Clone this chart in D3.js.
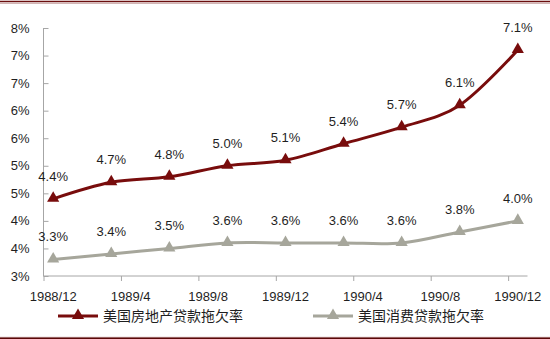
<!DOCTYPE html>
<html>
<head>
<meta charset="utf-8">
<script src="https://cdn.jsdelivr.net/npm/d3@7"></script>
<style>
  html, body { margin: 0; padding: 0; background: #fff; }
  svg { display: block; }
  .num { font-family: "Liberation Sans", Arial, sans-serif; font-size: 13px; fill: #1f1f1f; }
  .cjk { font-family: "Noto Sans CJK SC", sans-serif; font-size: 14px; fill: #1f1f1f; }
</style>
</head>
<body>
<svg id="chart" width="550" height="339"></svg>
<script>
// Quarterly observation dates (year/month)
const dates = ["1988/12", "1989/3", "1989/6", "1989/9", "1989/12", "1990/3", "1990/6", "1990/9", "1990/12"];
// Delinquency rates, %
const mortgageRate = [4.4, 4.7, 4.8, 5.0, 5.1, 5.4, 5.7, 6.1, 7.1];
const consumerRate = [3.3, 3.4, 3.5, 3.6, 3.6, 3.6, 3.6, 3.8, 4.0];
const seriesNames = ["美国房地产贷款拖欠率", "美国消费贷款拖欠率"];
const seriesColors = ["#780c0c", "#a6a69b"];
// Axis ticks
const xTickLabels = ["1988/12", "1989/4", "1989/8", "1989/12", "1990/4", "1990/8", "1990/12"];
const yTickValues = [3, 3.5, 4, 4.5, 5, 5.5, 6, 6.5, 7, 7.5];

const svg = d3.select("#chart");

// month index relative to the first date
const monthIndex = s => {
  const [y, m] = s.split("/").map(Number);
  const [y0, m0] = dates[0].split("/").map(Number);
  return (y - y0) * 12 + (m - m0);
};
const nMonths = monthIndex(dates[dates.length - 1]) + 1;

const x = d3.scaleLinear().domain([0, nMonths]).range([43.5, 527.5]);
const y = d3.scaleLinear().domain([3, 7.5]).range([276, 28]);
const axisColor = "#a6a6a6";

// frame rules top and bottom
svg.append("line").attr("x1", 0).attr("x2", 550).attr("y1", 1.5).attr("y2", 1.5)
  .attr("stroke", "#6b0f0f").attr("stroke-width", 1.6);
svg.append("line").attr("x1", 0).attr("x2", 550).attr("y1", 3.4).attr("y2", 3.4)
  .attr("stroke", "#b88a8a").attr("stroke-width", 0.7);
svg.append("line").attr("x1", 0).attr("x2", 550).attr("y1", 337.3).attr("y2", 337.3)
  .attr("stroke", "#b88a8a").attr("stroke-width", 0.7);
svg.append("line").attr("x1", 0).attr("x2", 550).attr("y1", 338.4).attr("y2", 338.4)
  .attr("stroke", "#5a0808").attr("stroke-width", 1.6);

// y axis
const yAxis = d3.axisRight(y).tickValues(yTickValues).tickSize(5).tickFormat(() => "");
const gy = svg.append("g").attr("transform", "translate(43.5,0)").call(yAxis);
gy.select(".domain").attr("stroke", axisColor).attr("d", `M0,${y(7.5)}V${y(3)}`);
gy.selectAll(".tick line").attr("stroke", axisColor);
svg.append("g").selectAll("text").data(yTickValues).join("text")
  .attr("class", "num")
  .attr("x", 29.5).attr("y", d => y(d)).attr("dy", "0.35em")
  .attr("text-anchor", "end")
  .text(d => Math.round(d) + "%");

// x axis: ticks at month boundaries, labels centred on each month
const xTickIdx = xTickLabels.map(monthIndex);
const xAxis = d3.axisBottom(x).tickValues(xTickIdx).tickSize(5).tickFormat(() => "");
const gx = svg.append("g").attr("transform", `translate(0,${y(3)})`).call(xAxis);
gx.select(".domain").attr("stroke", axisColor).attr("d", `M${x(0)},0H${x(nMonths)}`);
gx.selectAll(".tick line").attr("stroke", axisColor);
svg.append("g").selectAll("text").data(xTickLabels).join("text")
  .attr("class", "num")
  .attr("x", d => x(monthIndex(d) + 0.5)).attr("y", 300.5)
  .attr("text-anchor", "middle")
  .text(d => d);

const tri = d3.symbol().type(d3.symbolTriangle).size(64);
const line = d3.line()
  .x(d => x(monthIndex(d.date) + 0.5))
  .y(d => y(d.v))
  .curve(d3.curveCatmullRom.alpha(0));

const series = [mortgageRate, consumerRate].map((vals, k) => ({
  name: seriesNames[k],
  color: seriesColors[k],
  points: vals.map((v, i) => ({ date: dates[i], v }))
}));

series.forEach(s => {
  svg.append("path").datum(s.points)
    .attr("fill", "none").attr("stroke", s.color).attr("stroke-width", 3)
    .attr("stroke-linejoin", "round").attr("d", line);
  svg.append("g").selectAll("path").data(s.points).join("path")
    .attr("d", tri).attr("fill", s.color)
    .attr("transform", d => `translate(${x(monthIndex(d.date) + 0.5)},${y(d.v) - 0.5})`);
  svg.append("g").selectAll("text").data(s.points).join("text")
    .attr("class", "num")
    .attr("x", d => x(monthIndex(d.date) + 0.5))
    .attr("y", d => y(d.v) - 18)
    .attr("text-anchor", "middle")
    .text(d => d.v.toFixed(1) + "%");
});

// legend
const legendX = [58, 313];
series.forEach((s, k) => {
  const g = svg.append("g").attr("transform", `translate(${legendX[k]},316)`);
  g.append("line").attr("x1", 0).attr("x2", 40).attr("y1", 0).attr("y2", 0)
    .attr("stroke", s.color).attr("stroke-width", 3);
  g.append("path").attr("d", tri).attr("fill", s.color).attr("transform", "translate(20,-0.5)");
  g.append("text").attr("class", "cjk").attr("x", 45).attr("y", 0).attr("dy", "0.36em").text(s.name);
});
</script>
</body>
</html>
